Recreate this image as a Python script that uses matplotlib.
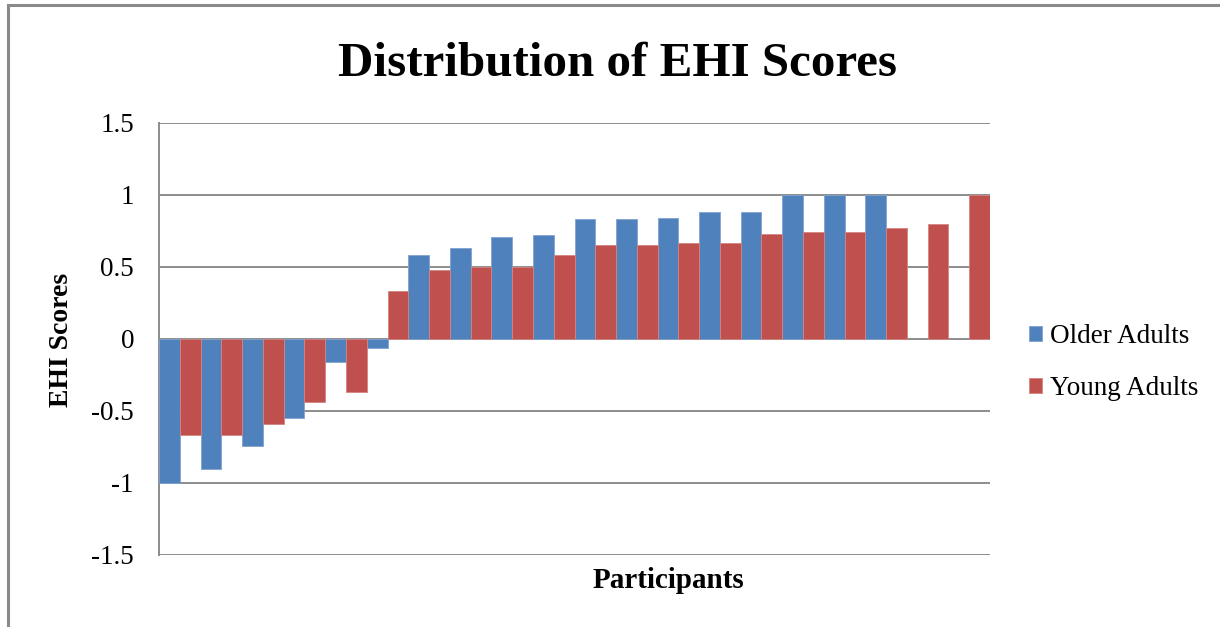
import numpy as np
import matplotlib

matplotlib.use("Agg")
import matplotlib.pyplot as plt
from matplotlib.patches import Rectangle

# EHI scores per participant, sorted; older group has 18, young group 20
older_adults = [-1.0, -0.9, -0.74, -0.55, -0.16, -0.06, 0.58, 0.63, 0.71, 0.72,
                0.83, 0.83, 0.84, 0.88, 0.88, 1.0, 1.0, 1.0]
young_adults = [-0.67, -0.67, -0.59, -0.44, -0.37, 0.33, 0.48, 0.5, 0.5, 0.58,
                0.65, 0.65, 0.67, 0.67, 0.73, 0.74, 0.74, 0.77, 0.8, 1.0]
y_ticks = [-1.5, -1, -0.5, 0, 0.5, 1, 1.5]
y_labels = ["-1.5", "-1", "-0.5", "0", "0.5", "1", "1.5"]

BLUE = "#4F81BD"
RED = "#C0504D"
GRID = "#8c8c8c"
SERIF = ["Liberation Serif", "DejaVu Serif"]
W, H = 1220, 627

fig = plt.figure(figsize=(12.2, 6.27), dpi=100)
ax = fig.add_axes([159 / W, 1 - 555 / H, (990 - 159) / W, (555 - 123) / H])

# chart-area border (only left/top visible in the reference)
fig.patches.append(Rectangle((8 / W, -0.05), 1.1, 0.05 + 1 - 5 / H,
                             transform=fig.transFigure, fill=False,
                             edgecolor="#8a8a8a", lw=2.2, zorder=0))

w = 0.5
xo = np.arange(len(older_adults))
xy = np.arange(len(young_adults))
ax.bar(xo - w / 2, older_adults, width=w, color=BLUE, edgecolor="#7fa3d0",
       lw=0.6, label="Older Adults", zorder=3)
ax.bar(xy + w / 2, young_adults, width=w, color=RED, edgecolor="#d48582",
       lw=0.6, label="Young Adults", zorder=3)

ax.set_xlim(-0.5, len(young_adults) - 0.5)
ax.set_ylim(-1.5, 1.5)
ax.set_yticks(y_ticks)
ax.set_yticklabels(y_labels, family=SERIF, fontsize=19.5)
ax.set_xticks([])
ax.tick_params(axis="y", length=0, pad=18)
ax.grid(axis="y", color=GRID, lw=1.4, zorder=0)
for s in ["top", "right", "bottom"]:
    ax.spines[s].set_visible(False)
ax.spines["left"].set_color(GRID)
ax.spines["left"].set_linewidth(1.4)

fig.text(62 / W, 1 - 340 / H, "EHI Scores", family=SERIF, fontsize=20,
         fontweight="bold", rotation=90, ha="center", va="center")
fig.text(668 / W, 1 - 580 / H, "Participants", family=SERIF, fontsize=21,
         fontweight="bold", ha="center", va="center")
fig.text(618 / W, 1 - 64 / H, "Distribution of EHI Scores", family=SERIF,
         fontsize=35.3, fontweight="bold", ha="center", va="center")

leg = ax.legend(loc="center left", bbox_to_anchor=(1.018, 0.445), frameon=False,
                prop={"family": SERIF, "size": 19.5}, handlelength=0.48,
                handleheight=0.48, handletextpad=0.3, labelspacing=0.98)

fig.savefig("out.png", dpi=100, facecolor="white")
